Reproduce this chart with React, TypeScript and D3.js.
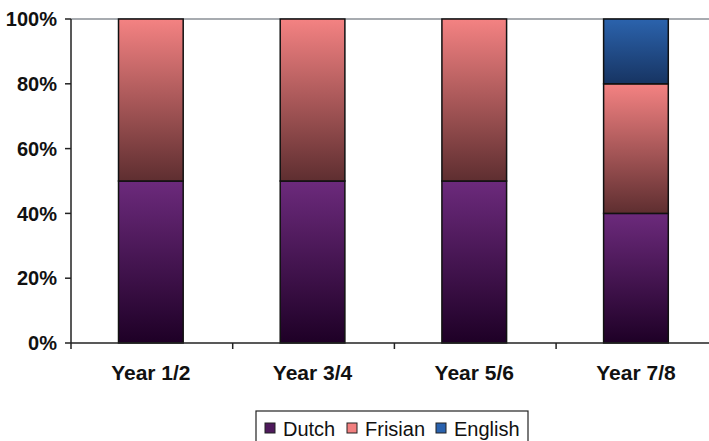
import * as d3 from "d3";

const years = ["Year 1/2", "Year 3/4", "Year 5/6", "Year 7/8"];
const dutch = [50, 50, 50, 40];
const frisian = [50, 50, 50, 40];
const english = [0, 0, 0, 20];
const yTicks = [0, 20, 40, 60, 80, 100];

const seriesNames = ["Dutch", "Frisian", "English"];
const gradients = [
  { top: "#6c2a7c", bottom: "#1e0026" },
  { top: "#f48282", bottom: "#5e2e30" },
  { top: "#2b63ad", bottom: "#173462" },
];
const swatch = ["#4e1a5c", "#f28080", "#2a62ae"];

const App = () => {
  const width = 709;
  const height = 441;
  const marginLeft = 71;
  const marginTop = 19;
  const plotBottom = 343;
  const step = 161.7;

  const x = d3
    .scaleBand<string>()
    .domain(years)
    .range([marginLeft, marginLeft + step * years.length])
    .paddingInner(0.6)
    .paddingOuter(0.3);
  const y = d3.scaleLinear([0, 100], [plotBottom, marginTop]);

  const rows = years.map((yr, i) => ({
    year: yr,
    Dutch: dutch[i],
    Frisian: frisian[i],
    English: english[i],
  }));
  const stacked = d3.stack<any>().keys(seriesNames)(rows);

  const font = "'Liberation Sans', Arial, sans-serif";
  const boundaries = years.map((_, i) => marginLeft + step * i);

  return (
    <svg
      width={width}
      height={height}
      style={{ position: "absolute", left: 0, top: 0, background: "#fff" }}
    >
      <defs>
        {gradients.map((g, i) => (
          <linearGradient key={i} id={`grad${i}`} x1="0" y1="0" x2="0" y2="1">
            <stop offset="0%" stopColor={g.top} />
            <stop offset="100%" stopColor={g.bottom} />
          </linearGradient>
        ))}
      </defs>

      {/* top border line */}
      <line x1={marginLeft} x2={width} y1={y(100)} y2={y(100)} stroke="#8a8f96" strokeWidth={1.5} />

      {stacked.map((s, si) =>
        s.map((d, i) =>
          d[1] - d[0] > 0 ? (
            <rect
              key={`${si}-${i}`}
              x={(x(years[i]) ?? 0) - 1}
              y={y(d[1])}
              width={x.bandwidth()}
              height={y(d[0]) - y(d[1])}
              fill={`url(#grad${si})`}
              stroke="#111"
              strokeWidth={1.5}
            />
          ) : null
        )
      )}

      {/* y axis */}
      <line x1={marginLeft} x2={marginLeft} y1={marginTop} y2={plotBottom} stroke="#222" strokeWidth={1.5} />
      {yTicks.map((t) => (
        <g key={t}>
          <line x1={marginLeft - 6} x2={marginLeft} y1={y(t)} y2={y(t)} stroke="#222" strokeWidth={1.5} />
          <text
            x={marginLeft - 14}
            y={y(t)}
            dy="0.36em"
            textAnchor="end"
            fontFamily={font}
            fontWeight="bold"
            fontSize={20}
            fill="#111"
          >
            {t}%
          </text>
        </g>
      ))}

      {/* x axis */}
      <line x1={marginLeft} x2={width} y1={plotBottom} y2={plotBottom} stroke="#222" strokeWidth={1.5} />
      {boundaries.map((b, i) => (
        <line key={i} x1={b} x2={b} y1={plotBottom} y2={plotBottom + 6} stroke="#222" strokeWidth={1.5} />
      ))}
      {years.map((yr) => (
        <text
          key={yr}
          x={(x(yr) ?? 0) + x.bandwidth() / 2 - 1}
          y={plotBottom + 37}
          textAnchor="middle"
          fontFamily={font}
          fontWeight="bold"
          fontSize={21}
          fill="#111"
        >
          {yr}
        </text>
      ))}

      {/* legend */}
      <rect x={256} y={411} width={272} height={40} fill="#fff" stroke="#222" strokeWidth={1.2} />
      {seriesNames.map((n, i) => {
        const offsets = [265, 347, 436];
        return (
          <g key={n} transform={`translate(${offsets[i]},0)`}>
            <rect x={0} y={423} width={10} height={10} fill={swatch[i]} stroke="#222" strokeWidth={1} />
            <text x={18} y={436} fontFamily={font} fontSize={20} fill="#111">
              {n}
            </text>
          </g>
        );
      })}
    </svg>
  );
};

export default App;
